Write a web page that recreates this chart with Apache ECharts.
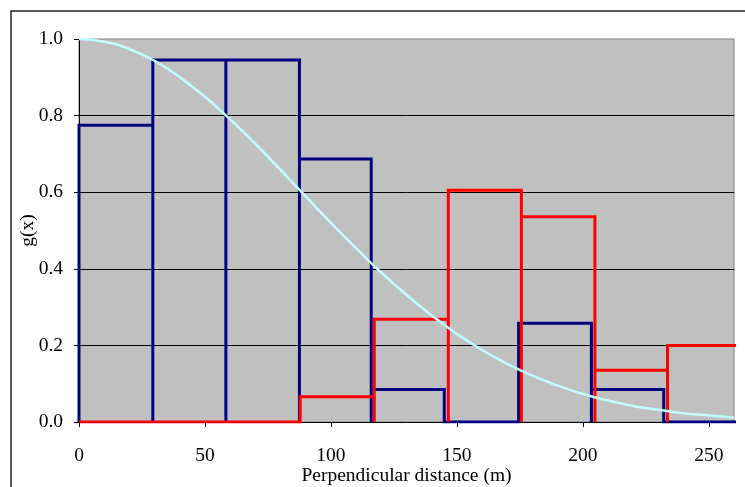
<!DOCTYPE html>
<html>
<head>
<meta charset="utf-8">
<script src="https://cdn.jsdelivr.net/npm/echarts@6/dist/echarts.min.js"></script>
<style>
html,body{margin:0;padding:0;background:#fff;}
#chart{width:745px;height:487px;}
</style>
</head>
<body>
<div id="chart"></div>
<script>
// Bin edges and heights
var blueEdges = [0, 29.3, 58.3, 87.5, 116.0, 145.0, 174.5, 203.4, 232.1, 261.2];
var blueHeights = [0.775, 0.945, 0.945, 0.687, 0.085, 0, 0.258, 0.085, 0];
var redEdges = [0, 29.3, 58.3, 87.8, 117.2, 146.6, 175.6, 204.8, 233.6, 262.8];
var redHeights = [0, 0, 0, 0.066, 0.268, 0.605, 0.536, 0.135, 0.200];
// Fitted detection curve g(x), read at 10 m steps
var curveX = [0,10,20,30,40,50,60,70,80,90,100,110,120,130,140,150,160,170,180,190,200,210,220,230,240,250,260];
var curveY = [1.0,0.993,0.974,0.943,0.90,0.849,0.79,0.726,0.658,0.589,0.52,0.454,0.39,0.332,0.278,0.23,0.188,0.152,0.121,0.095,0.073,0.056,0.042,0.032,0.023,0.017,0.012];
var xTicks = [0, 50, 100, 150, 200, 250];
var yTicks = [0, 0.2, 0.4, 0.6, 0.8, 1.0];

function outline(edges, heights) {
  var pts = [];
  for (var i = 0; i < heights.length; i++) {
    pts.push([edges[i], 0]);
    pts.push([edges[i], heights[i]]);
    pts.push([edges[i + 1], heights[i]]);
    pts.push([edges[i + 1], 0]);
  }
  return pts;
}
var curve = curveX.map(function (x, i) { return [x, curveY[i]]; });

var font = '"Liberation Serif", "Times New Roman", serif';
var chart = echarts.init(document.getElementById('chart'));
chart.setOption({
  animation: false,
  backgroundColor: '#ffffff',
  graphic: [{
    type: 'rect', silent: true, z: -10,
    shape: { x: 11, y: 11, width: 800, height: 600 },
    style: { fill: 'none', stroke: '#222', lineWidth: 1.5 }
  }],
  grid: {
    left: 79, top: 39, right: 11, bottom: 65,
    outerBoundsMode: 'none', containLabel: false,
    show: true, backgroundColor: '#C0C0C0', borderColor: '#808080', borderWidth: 1
  },
  xAxis: {
    type: 'value', min: 0, max: 260, interval: 50,
    name: 'Perpendicular distance (m)', nameLocation: 'middle', nameGap: 44, nameMoveOverlap: false,
    nameTextStyle: { fontFamily: font, fontSize: 19.5, color: '#000' },
    axisLine: { show: true, onZero: false, lineStyle: { color: '#000', width: 1 } },
    axisTick: { show: true, length: 5, lineStyle: { color: '#000' } },
    axisLabel: { margin: 24, fontFamily: font, fontSize: 19.5, color: '#000',
      showMaxLabel: false,
      formatter: function (v) { return xTicks.indexOf(v) >= 0 ? String(v) : ''; } },
    splitLine: { show: false }
  },
  yAxis: {
    type: 'value', min: 0, max: 1, interval: 0.2,
    name: 'g(x)', nameLocation: 'middle', nameGap: 41, nameRotate: 90, nameMoveOverlap: false,
    nameTextStyle: { fontFamily: font, fontSize: 19.5, color: '#000' },
    axisLine: { show: true, onZero: false, lineStyle: { color: '#000', width: 1 } },
    axisTick: { show: true, length: 5, lineStyle: { color: '#000' } },
    axisLabel: { margin: 16, fontFamily: font, fontSize: 19.5, color: '#000',
      formatter: function (v) { return v.toFixed(1); } },
    splitLine: { show: true, showMinLine: false, showMaxLine: false, lineStyle: { color: '#000', width: 1 } }
  },
  series: [
    {
      type: 'line', data: outline(blueEdges, blueHeights), symbol: 'none', clip: true,
      lineStyle: { color: '#000080', width: 3, join: 'miter' }, z: 2
    },
    {
      type: 'line', data: outline(redEdges, redHeights), symbol: 'none', clip: true,
      lineStyle: { color: '#FF0000', width: 3, join: 'miter' }, z: 3
    },
    {
      type: 'line', data: curve, symbol: 'none', smooth: true, clip: true,
      lineStyle: { color: '#BFFFFF', width: 2.5 }, z: 4
    }
  ]
});
</script>
</body>
</html>
